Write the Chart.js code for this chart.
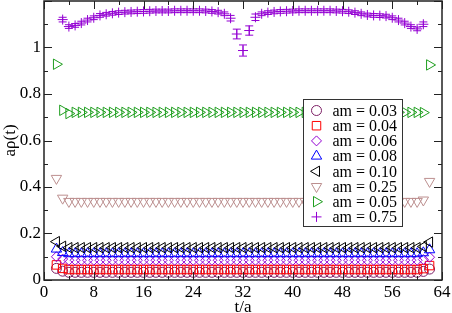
<!DOCTYPE html>
<html>
<head>
<meta charset="utf-8">
<script src="https://cdn.jsdelivr.net/npm/chart.js@4"></script>
<style>
  body { margin: 0; background: #fff; }
  #wrap { width: 452px; height: 313px; }
</style>
</head>
<body>
<div id="wrap"><canvas id="grafico" width="452" height="313"></canvas></div>
<script>
// time slices t/a
const tSlices = [2,3,4,5,6,7,8,9,10,11,12,13,14,15,16,17,18,19,20,21,22,23,24,25,26,27,28,29,30,31,32,
  33,34,35,36,37,38,39,40,41,42,43,44,45,46,47,48,49,50,51,52,53,54,55,56,57,58,59,60,61,62];

const am003 = [0.050, 0.038,
  0.033,0.033,0.033,0.033,0.033,0.033,0.033,0.033,0.033,0.033,
  0.033,0.033,0.033,0.033,0.033,0.033,0.033,0.033,0.033,0.033,
  0.033,0.033,0.033,0.033,0.033,0.033,0.033,0.033,0.033,0.033,
  0.033,0.033,0.033,0.033,0.033,0.033,0.033,0.033,0.033,0.033,
  0.033,0.033,0.033,0.033,0.033,0.033,0.033,0.033,0.033,0.033,
  0.033,0.033,0.033,0.033,0.033,0.033,0.033,
  0.037, 0.047];

const am004 = [0.065, 0.050,
  0.045,0.045,0.045,0.045,0.045,0.045,0.045,0.045,0.045,0.045,
  0.045,0.045,0.045,0.045,0.045,0.045,0.045,0.045,0.045,0.045,
  0.045,0.045,0.045,0.045,0.045,0.045,0.045,0.045,0.045,0.045,
  0.045,0.045,0.045,0.045,0.045,0.045,0.045,0.045,0.045,0.045,
  0.045,0.045,0.045,0.045,0.045,0.045,0.045,0.045,0.045,0.045,
  0.045,0.045,0.045,0.045,0.045,0.045,0.045,
  0.049, 0.062];

const am006 = [0.100, 0.090,
  0.085,0.085,0.085,0.085,0.085,0.085,0.085,0.085,0.085,0.085,
  0.085,0.085,0.085,0.085,0.085,0.085,0.085,0.085,0.085,0.085,
  0.085,0.085,0.085,0.085,0.085,0.085,0.085,0.085,0.085,0.085,
  0.085,0.085,0.085,0.085,0.085,0.085,0.085,0.085,0.085,0.085,
  0.085,0.085,0.085,0.085,0.085,0.085,0.085,0.085,0.085,0.085,
  0.085,0.085,0.085,0.085,0.085,0.085,0.085,
  0.088, 0.098];

const am008 = [0.133, 0.118,
  0.113,0.113,0.113,0.113,0.113,0.113,0.113,0.113,0.113,0.113,
  0.113,0.113,0.113,0.113,0.113,0.113,0.113,0.113,0.113,0.113,
  0.113,0.113,0.113,0.113,0.113,0.113,0.113,0.113,0.113,0.113,
  0.113,0.113,0.113,0.113,0.113,0.113,0.113,0.113,0.113,0.113,
  0.113,0.113,0.113,0.113,0.113,0.113,0.113,0.113,0.113,0.113,
  0.113,0.113,0.113,0.113,0.113,0.113,0.113,
  0.117, 0.130];

const am010 = [0.165, 0.145,
  0.139,0.139,0.139,0.139,0.139,0.139,0.139,0.139,0.139,0.139,
  0.139,0.139,0.139,0.139,0.139,0.139,0.139,0.139,0.139,0.139,
  0.139,0.139,0.139,0.139,0.139,0.139,0.139,0.139,0.139,0.139,
  0.139,0.139,0.139,0.139,0.139,0.139,0.139,0.139,0.139,0.139,
  0.139,0.139,0.139,0.139,0.139,0.139,0.139,0.139,0.139,0.139,
  0.139,0.139,0.139,0.139,0.139,0.139,0.139,
  0.144, 0.163];

const am025 = [0.437, 0.352,
  0.338,0.338,0.338,0.338,0.338,0.338,0.338,0.338,0.338,0.338,
  0.338,0.338,0.338,0.338,0.338,0.338,0.338,0.338,0.338,0.338,
  0.338,0.338,0.338,0.338,0.338,0.338,0.338,0.338,0.338,0.338,
  0.338,0.338,0.338,0.338,0.338,0.338,0.338,0.338,0.338,0.338,
  0.338,0.338,0.338,0.338,0.338,0.338,0.338,0.338,0.338,0.338,
  0.338,0.338,0.338,0.338,0.338,0.338,0.338,
  0.344, 0.424];

const am005 = [0.928, 0.730, 0.716,
  0.721,0.721,0.721,0.721,0.721,0.721,0.721,0.721,0.721,0.721,
  0.721,0.721,0.721,0.721,0.721,0.721,0.721,0.721,0.721,0.721,
  0.721,0.721,0.721,0.721,0.721,0.721,0.721,0.721,0.721,0.721,
  0.721,0.721,0.721,0.721,0.721,0.721,0.721,0.721,0.721,0.721,
  0.721,0.721,0.721,0.721,0.721,0.721,0.721,0.721,0.721,0.721,
  0.721,0.721,0.721,0.721,0.721,0.721,
  0.720, 0.925];

const am075 = [null,
  1.120,1.090,1.095,1.105,1.118,1.128,1.138,1.143,1.147,1.150,
  1.152,1.153,1.154,1.155,1.156,1.157,1.157,1.157,1.158,1.158,
  1.158,1.158,1.158,1.157,1.155,1.152,1.145,1.126,1.058,0.987,
  1.073,1.130,1.145,1.150,1.153,1.155,1.156,1.157,1.158,1.158,
  1.158,1.158,1.158,1.158,1.157,1.156,1.154,1.150,1.145,1.140,
  1.138,1.137,1.135,1.128,1.118,1.105,1.090,1.080,1.100,
  null];

const am075Err = [null,
  0.010,0.008,0.008,0.008,0.008,0.008,0.008,0.008,0.008,0.008,
  0.008,0.008,0.008,0.008,0.008,0.008,0.008,0.008,0.008,0.008,
  0.008,0.008,0.008,0.008,0.008,0.008,0.008,0.012,0.021,0.024,
  0.020,0.014,0.008,0.008,0.008,0.008,0.008,0.008,0.008,0.008,
  0.008,0.008,0.008,0.008,0.008,0.008,0.008,0.008,0.008,0.008,
  0.008,0.008,0.008,0.008,0.008,0.008,0.008,0.008,0.010,
  null];

const massLabels = ['am = 0.03','am = 0.04','am = 0.06','am = 0.08','am = 0.10','am = 0.25','am = 0.05','am = 0.75'];
const series = [am003, am004, am006, am008, am010, am025, am005, am075];
const errors = [null, null, null, null, null, null, null, am075Err];

const xTicks = [0, 8, 16, 24, 32, 40, 48, 56, 64];

// look of each set (grace style symbols)
const looks = [
  { color: '#7d1f66', style: 'circle', rot: 0, r: 5 },
  { color: '#ff0000', style: 'rect', rot: 0, r: 6 },
  { color: '#9400d3', style: 'rectRot', rot: 0, r: 5 },
  { color: '#0000ff', style: 'triangle', rot: 0, r: 6 },
  { color: '#000000', style: 'triangle', rot: 270, r: 6 },
  { color: '#bc8f8f', style: 'triangle', rot: 180, r: 6 },
  { color: '#1e9e1e', style: 'triangle', rot: 90, r: 6 },
  { color: '#9400d3', style: 'cross', rot: 0, r: 5 }
];

const datasets = series.map((vals, i) => ({
  label: massLabels[i],
  data: tSlices.map((t, j) => ({ x: t, y: vals[j], e: errors[i] ? errors[i][j] : null }))
              .filter(p => p.y !== null),
  pointStyle: looks[i].style,
  pointRotation: looks[i].rot,
  pointRadius: looks[i].r,
  pointBorderWidth: 1,
  borderColor: looks[i].color,
  backgroundColor: 'rgba(0,0,0,0)',
  showLine: false,
  order: -i
}));

const serif = "'Liberation Serif', 'Times New Roman', serif";

const graceFrame = {
  id: 'graceFrame',
  afterDatasetsDraw(chart) {
    const { ctx, scales: { x, y } } = chart;
    // error bars
    ctx.save();
    chart.data.datasets.forEach((ds, i) => {
      if (!errors[i]) return;
      ctx.strokeStyle = looks[i].color;
      ctx.lineWidth = 1;
      ds.data.forEach(p => {
        if (p.e == null) return;
        const px = x.getPixelForValue(p.x);
        const y1 = y.getPixelForValue(p.y + p.e);
        const y2 = y.getPixelForValue(p.y - p.e);
        ctx.beginPath();
        ctx.moveTo(px, y1); ctx.lineTo(px, y2);
        ctx.moveTo(px - 4, y1); ctx.lineTo(px + 4, y1);
        ctx.moveTo(px - 4, y2); ctx.lineTo(px + 4, y2);
        ctx.stroke();
      });
    });
    ctx.restore();
  },
  afterDraw(chart) {
    const { ctx, chartArea: a, scales: { x, y } } = chart;
    ctx.save();
    ctx.strokeStyle = '#222';
    ctx.lineWidth = 1.5;
    ctx.strokeRect(a.left, a.top, a.right - a.left, a.bottom - a.top);
    ctx.lineWidth = 1;
    ctx.beginPath();
    for (let v = 0; v <= 64; v += 4) {
      const px = Math.round(x.getPixelForValue(v)) + 0.5;
      const len = v % 8 === 0 ? 8 : 4;
      ctx.moveTo(px, a.bottom); ctx.lineTo(px, a.bottom - len);
      ctx.moveTo(px, a.top); ctx.lineTo(px, a.top + len);
    }
    for (let k = 0; k <= 12; k++) {
      const py = Math.round(y.getPixelForValue(k / 10)) + 0.5;
      const len = k % 2 === 0 ? 8 : 4;
      ctx.moveTo(a.left, py); ctx.lineTo(a.left + len, py);
      ctx.moveTo(a.right, py); ctx.lineTo(a.right - len, py);
    }
    ctx.stroke();

    // legend box
    const bx = a.left + 259, by = 99.5, bw = 99, bh = 127;
    ctx.fillStyle = '#fff';
    ctx.fillRect(bx, by, bw, bh);
    ctx.strokeStyle = '#333';
    ctx.lineWidth = 1;
    ctx.strokeRect(bx + 0.5, by, bw, bh);
    ctx.font = '16px ' + serif;
    ctx.textBaseline = 'middle';
    massLabels.forEach((lab, i) => {
      const ly = by + 11 + i * 15.2;
      ctx.strokeStyle = looks[i].color;
      ctx.fillStyle = 'rgba(0,0,0,0)';
      ctx.lineWidth = 1;
      Chart.helpers.drawPoint(ctx, {
        pointStyle: looks[i].style, rotation: looks[i].rot,
        radius: looks[i].r, borderWidth: 1
      }, bx + 13.5, ly);
      ctx.fillStyle = '#000';
      ctx.fillText(lab, bx + 29.5, ly + 1);
    });
    ctx.restore();
  }
};

new Chart(document.getElementById('grafico'), {
  type: 'scatter',
  data: { datasets },
  options: {
    responsive: false,
    animation: false,
    layout: { autoPadding: false, padding: { top: 1, right: 10, left: 0, bottom: 0 } },
    plugins: { legend: { display: false }, tooltip: { enabled: false } },
    scales: {
      x: {
        type: 'linear', min: 0, max: 64,
        afterBuildTicks: s => { s.ticks = xTicks.map(v => ({ value: v })); },
        afterFit: s => { s.height = 33; s.paddingLeft = 0; s.paddingRight = 0; },
        grid: { display: false, drawTicks: false },
        border: { display: false },
        ticks: { color: '#000', padding: 2, maxRotation: 0, font: { family: serif, size: 17 } },
        title: { display: true, text: 't/a', color: '#000', padding: { top: 0, bottom: -5 }, font: { family: serif, size: 17 } }
      },
      y: {
        type: 'linear', min: 0, max: 1.2,
        ticks: {
          stepSize: 0.2, color: '#000', padding: 3,
          font: { family: serif, size: 17 },
          callback: v => v > 1.1 ? '' : String(Math.round(v * 10) / 10)
        },
        afterFit: s => { s.width = 44; s.paddingTop = 0; s.paddingBottom = 0; },
        grid: { display: false, drawTicks: false },
        border: { display: false },
        title: { display: true, text: 'aρ(t)', color: '#000', padding: 0, font: { family: serif, size: 17 } }
      }
    }
  },
  plugins: [graceFrame]
});
</script>
</body>
</html>
